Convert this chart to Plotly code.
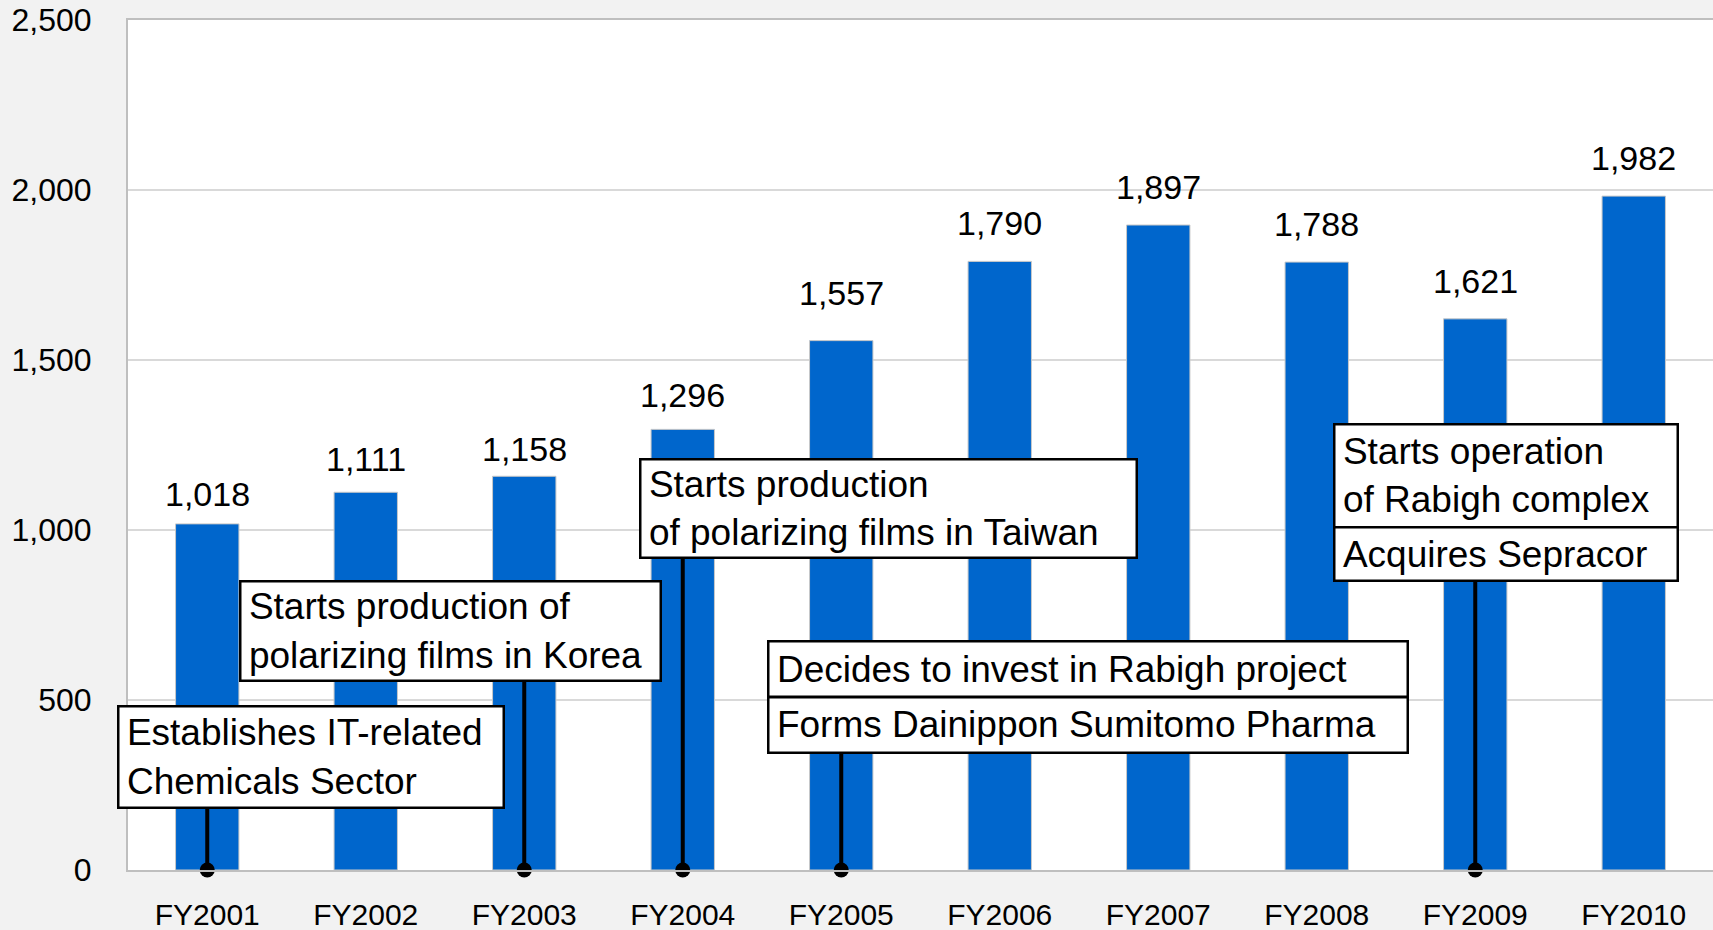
import plotly.graph_objects as go

# ---- data ----
years = ["FY2001", "FY2002", "FY2003", "FY2004", "FY2005",
         "FY2006", "FY2007", "FY2008", "FY2009", "FY2010"]
sales = [1018, 1111, 1158, 1296, 1557, 1790, 1897, 1788, 1621, 1982]

event_years = ["FY2001", "FY2003", "FY2004", "FY2005", "FY2009"]
event_texts = [
    ["Establishes IT-related<br>Chemicals Sector"],
    ["Starts production of<br>polarizing films in Korea"],
    ["Starts production<br>of polarizing films in Taiwan"],
    ["Decides to invest in Rabigh project", "Forms Dainippon Sumitomo Pharma"],
    ["Starts operation<br>of Rabigh complex", "Acquires Sepracor"],
]
y_ticks = [0, 500, 1000, 1500, 2000, 2500]

# ---- styling / placement (px) ----
label_gap = [9, 12, 6.5, 13.5, 27, 17, 17, 17, 17, 17]   # px gap of value labels above bars

box_layout = [
    dict(top=485, dx=-90, w=388, rows=[104]),
    dict(top=853, dx=-285, w=423, rows=[102]),
    dict(top=1212, dx=-44, w=499, rows=[101]),
    dict(top=676, dx=-74, w=642, rows=[58, 57.5]),
    dict(top=1315, dx=-142, w=346, rows=[105.5, 56]),
]

FONT = "Liberation Sans, Arial, sans-serif"
BAR_COLOR = "#0066CC"
BW = 2.5

fig = go.Figure()
fig.add_trace(go.Bar(
    x=years, y=sales, marker=dict(color=BAR_COLOR, line=dict(color="#c8c8c8", width=1)),
    hoverinfo="skip", showlegend=False,
))

annotations = []
# value labels
for yr, v, g in zip(years, sales, label_gap):
    annotations.append(dict(
        x=yr, y=v, xref="x", yref="y", text=f"{v:,}", showarrow=False,
        yanchor="bottom", xanchor="center", yshift=g,
        font=dict(family=FONT, size=34, color="black"),
    ))

# event connectors, dots and boxes
for yr, texts, lay in zip(event_years, event_texts, box_layout):
    fig.add_trace(go.Scatter(
        x=[yr, yr], y=[0, lay["top"]], mode="lines",
        line=dict(color="black", width=4), hoverinfo="skip", showlegend=False,
    ))
    fig.add_trace(go.Scatter(
        x=[yr], y=[0], mode="markers", cliponaxis=False,
        marker=dict(color="black", size=15), hoverinfo="skip", showlegend=False,
    ))
    shift = 0
    for txt, rh in zip(texts, lay["rows"]):
        t = "\u2009" + txt.replace("<br>", "<br>\u2009")
        annotations.append(dict(
            x=yr, y=lay["top"], xref="x", yref="y", text=t, showarrow=False,
            xanchor="left", yanchor="top", xshift=lay["dx"], yshift=-shift,
            align="left", valign="middle",
            width=lay["w"] - 2 * BW, height=rh - 2 * BW,
            bgcolor="white", bordercolor="black", borderwidth=BW, borderpad=0,
            font=dict(family=FONT, size=37, color="black"),
        ))
        shift += rh - BW

fig.update_layout(
    width=1713, height=930, autosize=False,
    margin=dict(l=128, r=0, t=20, b=60, autoexpand=False),
    paper_bgcolor="#f2f2f2", plot_bgcolor="white",
    bargap=0.6,
    annotations=annotations,
    font=dict(family=FONT, color="black"),
)
fig.update_xaxes(
    type="category", range=[-0.5, len(years) - 0.5], automargin=False,
    showgrid=False, ticks="",
    showline=True, linecolor="#bfbfbf", linewidth=2, mirror=True,
    tickfont=dict(family=FONT, size=30, color="black"),
    ticklabelstandoff=17,
)
fig.update_yaxes(
    range=[0, 2500], tickvals=y_ticks, tickformat=",", automargin=False,
    showgrid=True, gridcolor="#d9d9d9", gridwidth=1.5, zeroline=False,
    showline=True, linecolor="#bfbfbf", linewidth=2, mirror=True,
    tickfont=dict(family=FONT, size=32, color="black"),
    ticklabelstandoff=28, ticks="",
)

fig.write_html(
    "out.html",
    config={"displayModeBar": False},
    post_script="document.body.style.margin='0';document.body.style.overflow='hidden';",
)
